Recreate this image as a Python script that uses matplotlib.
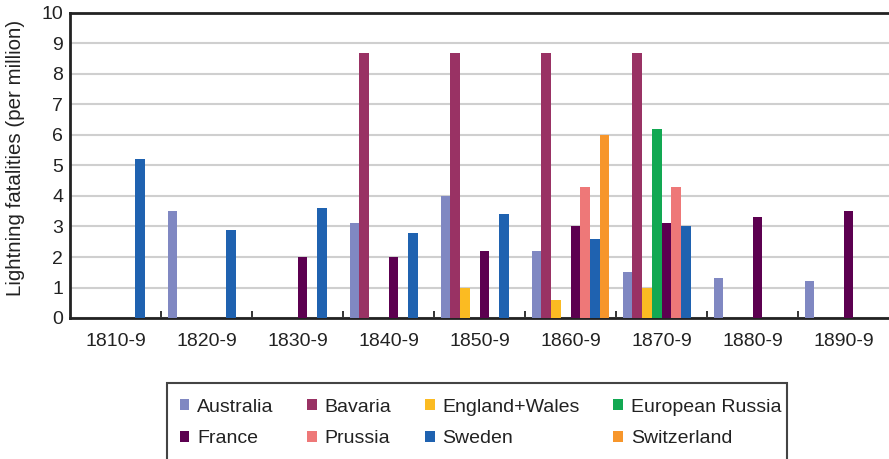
import matplotlib
matplotlib.use("Agg")
import matplotlib.pyplot as plt
from matplotlib.patches import Rectangle
import numpy as np

plt.rcParams['font.family'] = ['Liberation Sans', 'DejaVu Sans']

categories = ["1810-9", "1820-9", "1830-9", "1840-9", "1850-9", "1860-9", "1870-9", "1880-9", "1890-9"]
series_names = ["Australia", "Bavaria", "England+Wales", "European Russia",
                "France", "Prussia", "Sweden", "Switzerland"]
australia = [0, 3.5, 0, 3.1, 4.0, 2.2, 1.5, 1.3, 1.2]
bavaria = [0, 0, 0, 8.7, 8.7, 8.7, 8.7, 0, 0]
england_wales = [0, 0, 0, 0, 1.0, 0.6, 1.0, 0, 0]
european_russia = [0, 0, 0, 0, 0, 0, 6.2, 0, 0]
france = [0, 0, 2.0, 2.0, 2.2, 3.0, 3.1, 3.3, 3.5]
prussia = [0, 0, 0, 0, 0, 4.3, 4.3, 0, 0]
sweden = [5.2, 2.9, 3.6, 2.8, 3.4, 2.6, 3.0, 0, 0]
switzerland = [0, 0, 0, 0, 0, 6.0, 0, 0, 0]
series_values = [australia, bavaria, england_wales, european_russia,
                 france, prussia, sweden, switzerland]
colors = ["#8088c2", "#993264", "#fbbb22", "#12a852",
          "#5c0050", "#ee7878", "#1f62b0", "#f7962b"]
yticks = list(range(0, 11))

W, H = 889, 459
fig = plt.figure(figsize=(W / 100, H / 100), dpi=100)
ax = fig.add_axes([70 / W, 1 - 318 / H, 819 / W, 305 / H])

x = np.arange(len(categories))
bw = 0.1066
n = len(series_names)
for j, (name, vals, c) in enumerate(zip(series_names, series_values, colors)):
    ax.bar(x + (j - (n - 1) / 2) * bw, vals, width=bw, color=c, label=name,
           edgecolor='none', zorder=3)

ax.set_xlim(-0.5, len(categories) - 0.5)
ax.set_ylim(0, 10)
ax.set_yticks(yticks)
ax.set_yticklabels([str(t) for t in yticks])
ax.set_xticks(x)
ax.set_xticklabels(categories)
ax.set_xticks(np.arange(0.5, len(categories) - 0.5, 1), minor=True)
ax.tick_params(axis='x', which='major', length=0, pad=11, labelsize=14, colors='#222222')
ax.tick_params(axis='x', which='minor', direction='in', length=5, width=1.4, color='#333333')
ax.tick_params(axis='y', length=0, pad=5, labelsize=14, colors='#222222')
ax.yaxis.grid(True, color='#cfcfcf', linewidth=1.5, zorder=0)
ax.set_axisbelow(True)

for s in ['left', 'bottom', 'top']:
    ax.spines[s].set_color('#222222')
    ax.spines[s].set_linewidth(2)
ax.spines['right'].set_visible(False)

ax.set_ylabel("Lightning fatalities (per million)", fontsize=14.8, color='#222222')
ax.yaxis.set_label_coords(-0.055, 0.525)

# legend frame (extends past the bottom of the figure)
fig.patches.append(Rectangle((167 / W, -0.05), (787 - 167) / W, (1 - 383 / H) + 0.05,
                             transform=fig.transFigure, fill=False,
                             edgecolor='#444444', linewidth=1.5, clip_on=False))

handles, labels = ax.get_legend_handles_labels()
order = [0, 4, 1, 5, 2, 6, 3, 7]  # fill rows left to right
fig.legend([handles[i] for i in order], [labels[i] for i in order], ncol=4,
           loc='upper left', bbox_to_anchor=(170 / W, 1 - 389 / H), frameon=False,
           fontsize=14, handlelength=0.5, handleheight=0.5,
           handletextpad=0.4, columnspacing=1.72, borderpad=0,
           labelspacing=0.75, labelcolor='#222222')

fig.savefig("out.png", dpi=100)
